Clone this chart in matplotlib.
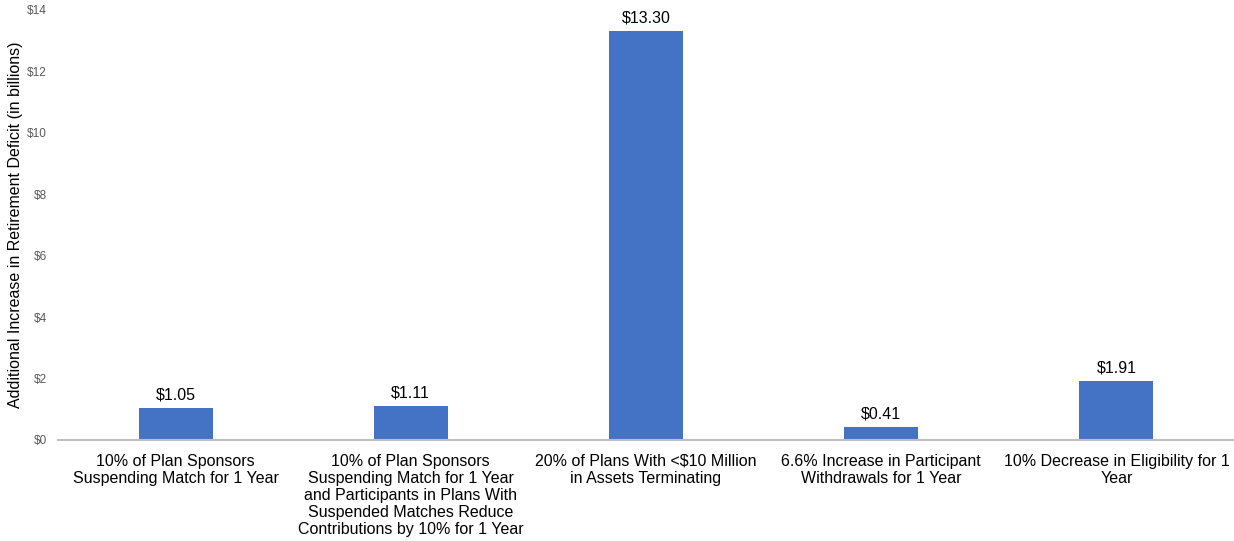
import matplotlib.pyplot as plt

plt.rcParams['font.family'] = ['Liberation Sans', 'DejaVu Sans']

categories = [
    "10% of Plan Sponsors\nSuspending Match for 1 Year",
    "10% of Plan Sponsors\nSuspending Match for 1 Year\nand Participants in Plans With\nSuspended Matches Reduce\nContributions by 10% for 1 Year",
    "20% of Plans With <$10 Million\nin Assets Terminating",
    "6.6% Increase in Participant\nWithdrawals for 1 Year",
    "10% Decrease in Eligibility for 1\nYear",
]
values = [1.05, 1.11, 13.30, 0.41, 1.91]
yticks = [0, 2, 4, 6, 8, 10, 12, 14]

fig = plt.figure(figsize=(12.34, 5.41), dpi=100)
ax = fig.add_axes([0.047, 0.1867, 0.953, 0.7957])

x = range(len(values))
bars = ax.bar(x, values, width=0.315, color="#4472C4", zorder=2)

for b, v in zip(bars, values):
    ax.annotate(f"${v:.2f}", (b.get_x() + b.get_width() / 2, v),
                xytext=(0, 4), textcoords="offset points",
                ha="center", va="bottom", fontsize=11.5, color="#000000")

ax.set_xlim(-0.5, len(values) - 0.5)
ax.set_ylim(0, 14)
ax.set_yticks(yticks)
ax.set_yticklabels([f"${t}" for t in yticks], fontsize=8.5, color="#595959")
ax.set_xticks(list(x))
ax.set_xticklabels(categories, fontsize=11.5, color="#000000", linespacing=1.17)

ax.tick_params(axis="y", length=0, pad=8)
ax.tick_params(axis="x", length=0, pad=10)

for s in ["top", "right", "left"]:
    ax.spines[s].set_visible(False)
ax.spines["bottom"].set_color("#bfbfbf")
ax.spines["bottom"].set_linewidth(1.5)

ax.set_ylabel("Additional Increase in Retirement Deficit (in billions)",
              fontsize=11.5, color="#000000")
ax.yaxis.set_label_coords(-0.030, 0.5)

fig.savefig("out.png", dpi=100)
